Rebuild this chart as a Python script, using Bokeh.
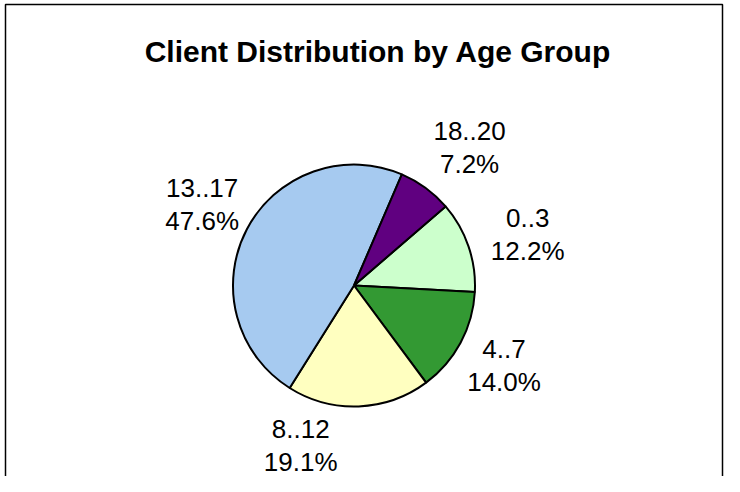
import numpy as np
from bokeh.plotting import figure
from bokeh.models import ColumnDataSource, Range1d
from bokeh.core.properties import value
from bokeh.embed import file_html
from bokeh.resources import INLINE

# ---- data ----
title = "Client Distribution by Age Group"
groups = ["0..3", "4..7", "8..12", "13..17", "18..20"]
shares = [12.2, 14.0, 19.1, 47.6, 7.2]          # percent
colors = ["#CCFFCC", "#339933", "#FFFFC0", "#A6CAF0", "#600080"]

# ---- layout (pixels) ----
W, H = 724, 476
CX, CY, R = 353.5, 191.0, 121.0
START_DEG = 40.8                                  # first slice start (math angle)
label_dist = [181, 170, 169, 172, 180]
label_shift_deg = [-2.5, 0.2, -20.6, -0.3, -3.7]
LINE_GAP = 16.5

vals = np.array(shares, dtype=float)
frac = vals / vals.sum()
cum = np.concatenate([[0.0], np.cumsum(frac)[:-1]])
start = np.deg2rad(START_DEG) - 2 * np.pi * cum
end = start - 2 * np.pi * frac
mid = (start + end) / 2 + np.deg2rad(label_shift_deg)
lx = CX + np.array(label_dist) * np.cos(mid)
ly = CY + np.array(label_dist) * np.sin(mid)

src = ColumnDataSource(dict(
    start=start, end=end, color=colors, group=groups,
    pct=[f"{v:.1f}%" for v in shares],
    lx=lx, ly1=ly + LINE_GAP, ly2=ly - LINE_GAP,
))

p = figure(width=W, height=H, x_range=Range1d(0, W), y_range=Range1d(0, H),
           output_backend="svg", toolbar_location=None, min_border=0,
           x_axis_location=None, y_axis_location=None)
p.grid.visible = False
p.outline_line_color = None
p.background_fill_color = "white"
p.border_fill_color = "white"

# chart border (left, top, right)
p.line(x=[5, 5, W - 2, W - 2], y=[-20, H - 4, H - 4, -20],
       line_color="black", line_width=1.5)

p.wedge(x=CX, y=CY, radius=R, start_angle="start", end_angle="end",
        direction="clock", fill_color="color", line_color="black",
        line_width=2, source=src)

font = value("Liberation Sans")
p.text(x="lx", y="ly1", text="group", source=src, text_font=font,
       text_font_size="26px", text_align="center", text_baseline="middle",
       text_color="black")
p.text(x="lx", y="ly2", text="pct", source=src, text_font=font,
       text_font_size="26px", text_align="center", text_baseline="middle",
       text_color="black")

p.text(x=[377.5], y=[H - 50.5], text=[title], text_font=font,
       text_font_size="30px", text_font_style="bold", text_align="center",
       text_baseline="middle", text_color="black")

open("out.html", "w").write(file_html(p, INLINE))
